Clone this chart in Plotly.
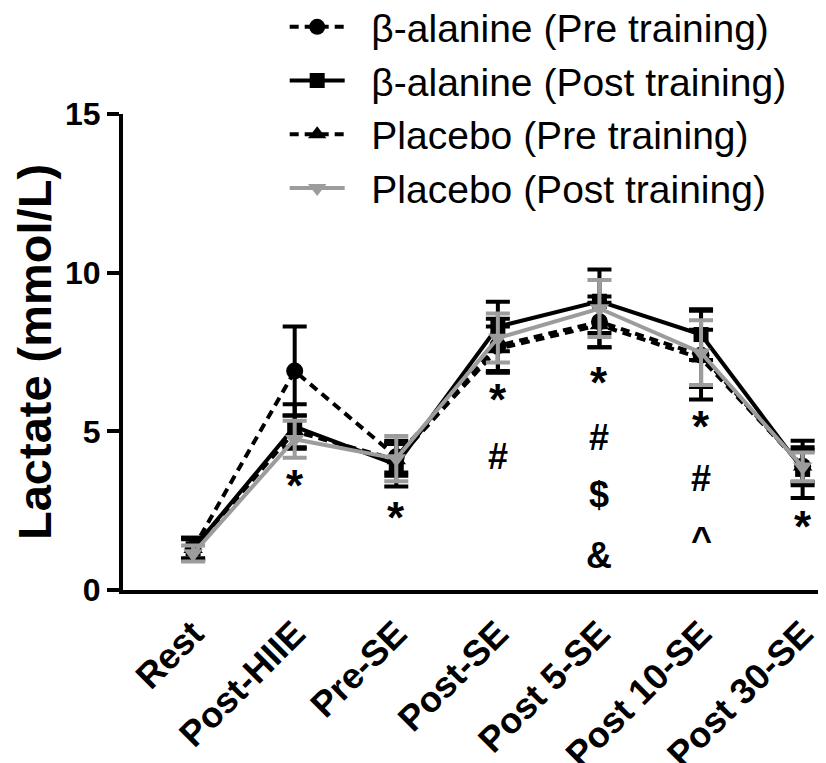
import plotly.graph_objects as go

categories = ["Rest", "Post-HIIE", "Pre-SE", "Post-SE", "Post 5-SE", "Post 10-SE", "Post 30-SE"]

beta_pre = [1.3, 6.9, 4.2, 7.7, 8.45, 7.4, 3.9]
beta_pre_sd = [0.35, 1.4, 0.5, 0.85, 0.8, 1.4, 0.6]

placebo_pre = [1.3, 5.0, 4.1, 7.6, 8.35, 7.3, 3.9]
placebo_pre_sd = [0.3, 0.5, 0.5, 0.7, 0.7, 0.9, 0.5]

beta_post = [1.3, 5.15, 3.95, 8.3, 9.1, 8.05, 3.8]
beta_post_sd = [0.35, 0.7, 0.69, 0.78, 1.0, 0.8, 0.9]

placebo_post = [1.15, 4.75, 4.14, 7.94, 8.87, 7.48, 3.88]
placebo_post_sd = [0.25, 0.58, 0.71, 0.77, 0.9, 1.02, 0.45]

series_names = ["β-alanine (Pre training)", "β-alanine (Post training)",
                "Placebo (Pre training)", "Placebo (Post training)"]

# significance symbols: (category, symbol, y)
sig_marks = [
    ("Post-HIIE", "*", 3.3),
    ("Pre-SE", "*", 2.3),
    ("Post-SE", "*", 6.0), ("Post-SE", "#", 4.2),
    ("Post 5-SE", "*", 6.55), ("Post 5-SE", "#", 4.8), ("Post 5-SE", "$", 3.0), ("Post 5-SE", "&", 1.1),
    ("Post 10-SE", "*", 5.15), ("Post 10-SE", "#", 3.5), ("Post 10-SE", "^", 1.6),
    ("Post 30-SE", "*", 2.0),
]

BLACK = "#000000"
GRAY = "#9c9c9c"
FONT = "Liberation Sans, Arial, sans-serif"
NB = "\u00a0\u00a0"
x_idx = list(range(len(categories)))

def trace(y, sd, name, color, dash, symbol, size, order):
    return go.Scatter(
        x=x_idx, y=y, name=NB + name, mode="lines+markers",
        line=dict(color=color, width=4, dash=dash),
        marker=dict(symbol=symbol, size=size, color=color),
        error_y=dict(type="data", array=sd, visible=True, color=color, thickness=4, width=12),
        cliponaxis=False, legendrank=order,
    )

fig = go.Figure()
fig.add_trace(trace(beta_pre, beta_pre_sd, series_names[0], BLACK, "9px,6px", "circle", 17, 1))
fig.add_trace(trace(placebo_pre, placebo_pre_sd, series_names[2], BLACK, "9px,6px", "triangle-up", 17, 3))
fig.add_trace(trace(beta_post, beta_post_sd, series_names[1], BLACK, "solid", "square", 15, 2))
fig.add_trace(trace(placebo_post, placebo_post_sd, series_names[3], GRAY, "solid", "triangle-down", 17, 4))

for cat, sym, yv in sig_marks:
    fig.add_annotation(x=categories.index(cat), y=yv, text=sym, showarrow=False,
                       font=dict(family=FONT, size=44 if sym == "*" else 36, color="black", weight="bold"),
                       xanchor="center", yanchor="middle")

fig.update_layout(
    width=826, height=763,
    margin=dict(l=115, r=8, t=106, b=181, autoexpand=False),
    paper_bgcolor="white", plot_bgcolor="white",
    font=dict(family=FONT, color="black"),
    showlegend=True,
    legend=dict(x=0.230, y=1.25, xanchor="left", yanchor="top",
                font=dict(family=FONT, size=39, color="black"),
                itemwidth=55, bgcolor="rgba(0,0,0,0)", traceorder="normal"),
    xaxis=dict(
        range=[-0.69, 6.23], tickmode="array", tickvals=x_idx, ticktext=categories,
        tickangle=-45, showline=True, linewidth=4, linecolor="black",
        ticks="", showgrid=False, zeroline=False, ticklabelstandoff=4,
        tickfont=dict(family=FONT, size=36, color="black", weight="bold"),
    ),
    yaxis=dict(
        range=[0, 15], tickvals=[0, 5, 10, 15], showline=True, linewidth=4, linecolor="black",
        ticks="outside", ticklen=12, tickwidth=4, tickcolor="black",
        showgrid=False, zeroline=False,
        tickfont=dict(family=FONT, size=32, color="black", weight="bold"),
        title=dict(text="Lactate (mmol/L)", standoff=26,
                   font=dict(family=FONT, size=47, color="black", weight="bold")),
    ),
)

fig.write_html("out.html")
